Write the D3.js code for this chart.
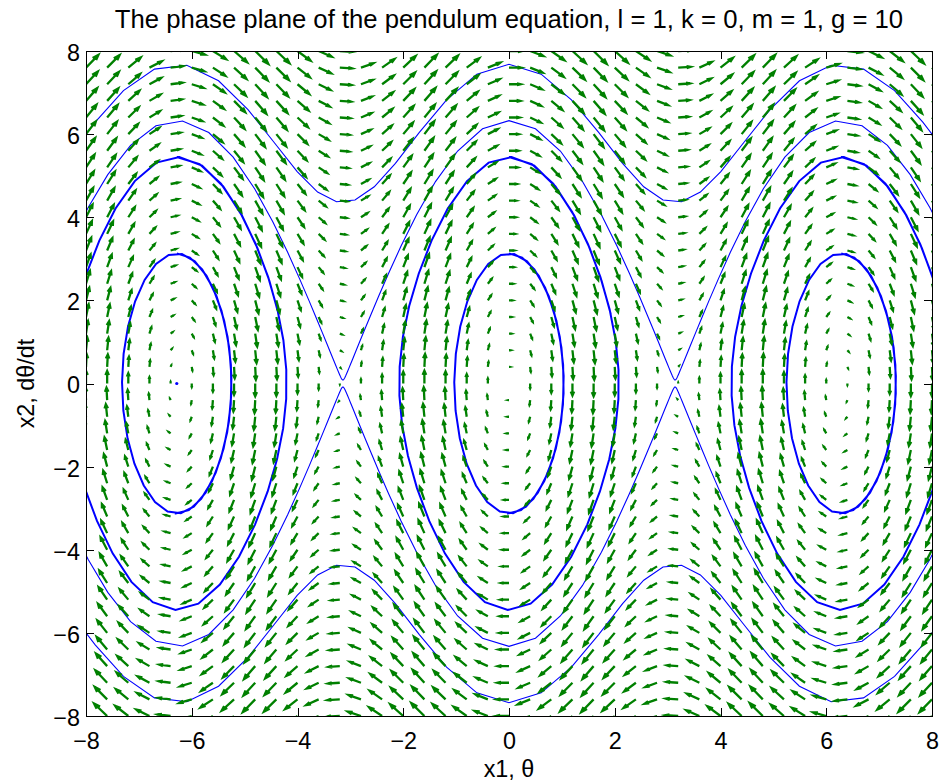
<!DOCTYPE html>
<html>
<head>
<meta charset="utf-8">
<script src="https://cdn.jsdelivr.net/npm/d3@7"></script>
<style>
  body { margin: 0; background: #fff; }
  text { font-family: "Liberation Sans", Arial, Helvetica, sans-serif; fill: #000; }
</style>
</head>
<body>
<svg id="chart" width="939" height="783"></svg>
<script>
// pendulum parameters, as given in the title
const lenL = 1, dampK = 0, massM = 1, gravG = 10;

const axisTicks = [-8, -6, -4, -2, 0, 2, 4, 6, 8];

// quiver grid: 41 x 41 points, 0.4 apart
const gridX = d3.range(41).map(i => -8 + 0.4 * i);
const gridY = d3.range(41).map(i => -8 + 0.4 * i);

// closed orbits, started at their top point [x1, x2]
const closedStarts = [
  [-6.2832, 3.13], [0, 3.13], [6.2832, 3.13],
  [-6.2832, 5.45], [0, 5.45], [6.2832, 5.45],
];
// running-over orbits (near separatrix and outer ones), started at x1 = 0
const openStarts = [[0, 6.3251], [0, -6.3251], [0, 7.68], [0, -7.68]];
// trajectory that stays at rest
const restPoints = [[-6.2832, 0]];

const svg = d3.select('#chart');
const plot = {left: 86, right: 932, top: 51, bottom: 716};

const x = d3.scaleLinear().domain([-8, 8]).range([plot.left, plot.right]);
const y = d3.scaleLinear().domain([-8, 8]).range([plot.bottom, plot.top]);

svg.append('defs').append('clipPath').attr('id', 'clip')
  .append('rect')
  .attr('x', plot.left).attr('y', plot.top)
  .attr('width', plot.right - plot.left).attr('height', plot.bottom - plot.top);

function deriv(s) {
  return [s[1], -(gravG / lenL) * Math.sin(s[0]) - (dampK / massM) * s[1]];
}

function rk4(s, h) {
  const k1 = deriv(s);
  const k2 = deriv([s[0] + h / 2 * k1[0], s[1] + h / 2 * k1[1]]);
  const k3 = deriv([s[0] + h / 2 * k2[0], s[1] + h / 2 * k2[1]]);
  const k4 = deriv([s[0] + h * k3[0], s[1] + h * k3[1]]);
  return [s[0] + h / 6 * (k1[0] + 2 * k2[0] + 2 * k3[0] + k4[0]),
          s[1] + h / 6 * (k1[1] + 2 * k2[1] + 2 * k3[1] + k4[1])];
}

// integrate, keeping a point every 0.08 s (coarse, like the solver output)
function integrate(start, dir, stop) {
  const h = 0.005 * dir;
  const pts = [start.slice()];
  let s = start.slice();
  for (let i = 1; i < 20000; i++) {
    s = rk4(s, h);
    if (stop(s, i * 0.005)) { pts.push(s.slice()); break; }
    if (i % 16 === 0) pts.push(s.slice());
  }
  return pts;
}

const line = d3.line().x(d => x(d[0])).y(d => y(d[1]));

const traj = svg.append('g').attr('clip-path', 'url(#clip)')
  .attr('fill', 'none').attr('stroke', '#0000ff');

closedStarts.forEach(st => {
  const pts = integrate(st, 1, (s, t) => t > 3.2);
  traj.append('path').attr('d', line(pts)).attr('stroke-width', 2);
});

openStarts.forEach(st => {
  const out = (s, t) => Math.abs(s[0]) > 8.8 || t > 60;
  const fwd = integrate(st, 1, out);
  const back = integrate(st, -1, out);
  const pts = back.reverse().concat(fwd.slice(1));
  traj.append('path').attr('d', line(pts)).attr('stroke-width', 1.1);
});

traj.selectAll('circle.rest').data(restPoints).join('circle')
  .attr('class', 'rest')
  .attr('cx', d => x(d[0])).attr('cy', d => y(d[1]))
  .attr('r', 1.6).attr('fill', '#0000ff').attr('stroke', 'none');

// quiver field, arrows built in data units like MATLAB's quiver
const arrowScale = 0.031;
const alpha = 0.33, beta = 0.33;
let qd = '';
gridX.forEach(x1 => {
  gridY.forEach(x2 => {
    const f = deriv([x1, x2]);
    const u = f[0] * arrowScale, v = f[1] * arrowScale;
    const tx = x1 + u, ty = x2 + v;
    qd += 'M' + x(x1) + ',' + y(x2) + 'L' + x(tx) + ',' + y(ty);
    qd += 'M' + x(tx - alpha * (u + beta * v)) + ',' + y(ty - alpha * (v - beta * u)) +
      'L' + x(tx) + ',' + y(ty) +
      'L' + x(tx - alpha * (u - beta * v)) + ',' + y(ty - alpha * (v + beta * u));
  });
});
svg.append('g').attr('clip-path', 'url(#clip)')
  .append('path').attr('d', qd)
  .attr('fill', 'none').attr('stroke', '#008000').attr('stroke-width', 2.3);

// axes, ticks inside on all four sides
const fontSize = 23.4;
const fmt = d3.format('d');
const tick = 8;

const gx = svg.append('g').attr('transform', `translate(0,${plot.bottom})`)
  .call(d3.axisBottom(x).tickValues(axisTicks).tickFormat(fmt).tickSize(-tick).tickPadding(16));
const gy = svg.append('g').attr('transform', `translate(${plot.left},0)`)
  .call(d3.axisLeft(y).tickValues(axisTicks).tickFormat(fmt).tickSize(-tick).tickPadding(6));
svg.append('g').attr('transform', `translate(0,${plot.top})`)
  .call(d3.axisTop(x).tickValues(axisTicks).tickFormat('').tickSize(-tick));
svg.append('g').attr('transform', `translate(${plot.right},0)`)
  .call(d3.axisRight(y).tickValues(axisTicks).tickFormat('').tickSize(-tick));

svg.selectAll('.domain').remove();
svg.selectAll('.tick line').attr('stroke', '#000').attr('shape-rendering', 'crispEdges');
svg.selectAll('.tick text').attr('font-size', fontSize)
  .attr('font-family', '"Liberation Sans", Arial, Helvetica, sans-serif').attr('fill', '#000');
gy.selectAll('.tick text').attr('dy', '0.4em');

svg.append('rect')
  .attr('x', plot.left).attr('y', plot.top)
  .attr('width', plot.right - plot.left).attr('height', plot.bottom - plot.top)
  .attr('fill', 'none').attr('stroke', '#000').attr('shape-rendering', 'crispEdges');

svg.append('text')
  .attr('x', (plot.left + plot.right) / 2).attr('y', 28)
  .attr('text-anchor', 'middle').attr('font-size', 25.7)
  .text('The phase plane of the pendulum equation, l = 1, k = 0, m = 1, g = 10');

svg.append('text')
  .attr('x', (plot.left + plot.right) / 2).attr('y', 777)
  .attr('text-anchor', 'middle').attr('font-size', fontSize)
  .text('x1, θ');

svg.append('text')
  .attr('transform', `translate(34,${(plot.top + plot.bottom) / 2}) rotate(-90)`)
  .attr('text-anchor', 'middle').attr('font-size', fontSize)
  .text('x2, dθ/dt');
</script>
</body>
</html>
